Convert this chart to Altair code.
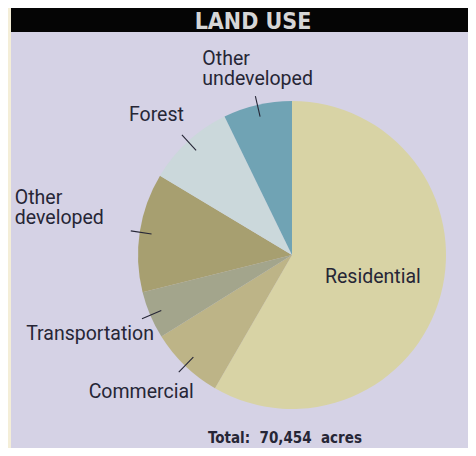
import math
import altair as alt
import pandas as pd

# ---- data ----
categories = ["Residential", "Commercial", "Transportation", "Other developed", "Forest", "Other undeveloped"]
acres = [41100, 5480, 3520, 8810, 6460, 5084]
labels = ["Residential", "Commercial", "Transportation", "Other\ndeveloped", "Forest", "Other\nundeveloped"]
colors = ["#d8d3a5", "#bdb487", "#a3a58c", "#a79f70", "#cbd8db", "#70a3b4"]
title_text = "LAND USE"
total_text = "Total:\u00a0\u00a070,454\u00a0\u00a0acres"

# ---- layout ----
W, H = 460, 440
CX, CY, R = 284, 247, 154
R_IN, R_OUT = 142, 163
LINE_H = 20
BG = "#d5d2e5"
INK = "#262636"
FONT = "Roboto"

layout = {
    "Residential": dict(anchor="center", dx=33, dy=28, align="left"),
    "Commercial": dict(anchor="leader", dx=15, dy=26, align="right"),
    "Transportation": dict(anchor="leader", dx=12, dy=21, align="right"),
    "Other developed": dict(anchor="leader", dx=-116, dy=-27, align="left"),
    "Forest": dict(anchor="leader", dx=2, dy=-14, align="right"),
    "Other undeveloped": dict(anchor="leader", dx=-53, dy=-31, align="left"),
}

df = pd.DataFrame({"category": categories, "acres": acres, "order": list(range(len(categories)))})

# derive leader lines / label anchors from the slice angles
total = sum(acres)
cum = 0.0
line_rows, text_rows = [], []
for cat, val, lab in zip(categories, acres, labels):
    a0 = cum / total * 2 * math.pi
    cum += val
    a1 = cum / total * 2 * math.pi
    mid = (a0 + a1) / 2
    sx, sy = math.sin(mid), -math.cos(mid)
    lay = layout[cat]
    if lay["anchor"] == "leader":
        x1, y1 = CX + R_IN * sx, CY + R_IN * sy
        x2, y2 = CX + R_OUT * sx, CY + R_OUT * sy
        line_rows.append(dict(category=cat, x1=x1, y1=y1, x2=x2, y2=y2))
        bx, by = x2, y2
    else:
        bx, by = CX, CY
    text_rows.append(dict(category=cat, text=lab, x=bx + lay["dx"], y=by + lay["dy"], align=lay["align"]))

lines_df = pd.DataFrame(line_rows)
text_df = pd.DataFrame(text_rows)

pie = alt.Chart(df).mark_arc(radius=R).encode(
    theta=alt.Theta("acres:Q", stack=True),
    color=alt.Color("category:N", scale=alt.Scale(domain=categories, range=colors), legend=None),
    order=alt.Order("order:Q"),
    x=alt.value(CX),
    y=alt.value(CY),
)

leaders = alt.Chart(lines_df).mark_rule(color=INK, strokeWidth=1.1).encode(
    x=alt.X("x1:Q", scale=None, axis=None),
    y=alt.Y("y1:Q", scale=None, axis=None),
    x2="x2:Q",
    y2="y2:Q",
)

text_layers = []
for al in ["left", "right"]:
    sub = text_df[text_df["align"] == al]
    text_layers.append(
        alt.Chart(sub).mark_text(align=al, baseline="alphabetic", font=FONT, fontSize=19.5, color=INK,
                                 lineBreak="\n", lineHeight=LINE_H).encode(
            x=alt.X("x:Q", scale=None, axis=None),
            y=alt.Y("y:Q", scale=None, axis=None),
            text="text:N",
        )
    )

one = pd.DataFrame({"title": [title_text], "total": [total_text]})

strip = alt.Chart(one).mark_rect(color="#f4eed8").encode(
    x=alt.value(0), x2=alt.value(3), y=alt.value(0), y2=alt.value(H)
)
bar = alt.Chart(one).mark_rect(color="#050505").encode(
    x=alt.value(3), x2=alt.value(W), y=alt.value(0), y2=alt.value(24)
)
title = alt.Chart(one).mark_text(
    align="center", baseline="alphabetic", font="DejaVu Sans Condensed",
    fontWeight="bold", fontSize=23, color="#d6d6d6"
).encode(x=alt.value(245), y=alt.value(21), text="title:N")

total_lbl = alt.Chart(one).mark_text(
    align="center", baseline="alphabetic", font="DejaVu Sans Condensed",
    fontWeight="bold", fontSize=15, color=INK
).encode(x=alt.value(277), y=alt.value(435), text="total:N")

chart = alt.layer(strip, bar, title, pie, leaders, *text_layers, total_lbl).properties(
    width=W, height=H, autosize=alt.AutoSizeParams(type="none"), padding=0, background=BG
).configure_view(strokeWidth=0)

chart.save("out.html", embed_options={"renderer": "svg", "actions": False})
